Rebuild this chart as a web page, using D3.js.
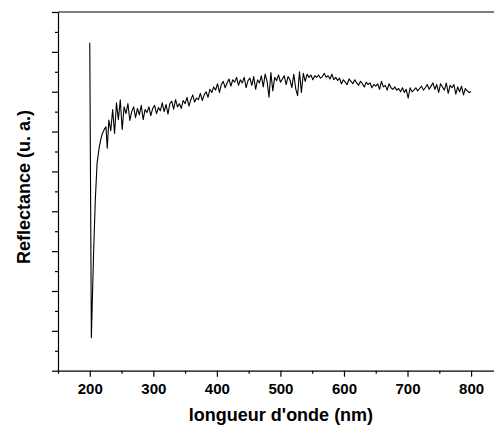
<!DOCTYPE html>
<html>
<head>
<meta charset="utf-8">
<script src="https://cdn.jsdelivr.net/npm/d3@7"></script>
<style>
  body { margin: 0; background: #fff; }
  text { font-family: "Liberation Sans", Arial, sans-serif; font-weight: bold; }
</style>
</head>
<body>
<script>
// spike + recovery at the start of the scan
const headWave = [200, 202.5, 206, 208.7, 211.5, 215, 218, 220, 223, 225.5, 227.5];
const headRefl = [8.23, 0.83, 2.95, 4.28, 5.21, 5.62, 5.85, 5.96, 6.06, 6.12, 5.58];

// noisy part, one value every 3 nm from 230 to 800 nm
const bodyStart = 230;
const bodyStep = 3;
const bodyRefl = [
  6.29, 6.02, 6.55, 5.95, 6.72, 6.30, 6.80, 6.05, 6.62, 6.45,
  6.70, 6.28, 6.50, 6.62, 6.35, 6.58, 6.42, 6.66, 6.30, 6.55,
  6.48, 6.62, 6.40, 6.58, 6.66, 6.45, 6.60, 6.52, 6.72, 6.50,
  6.68, 6.44, 6.70, 6.76, 6.56, 6.80, 6.62, 6.70, 6.58, 6.78,
  6.70, 6.86, 6.64, 6.80, 6.92, 6.74, 6.84, 6.80, 6.96, 6.78,
  6.92, 7.00, 6.86, 7.06, 6.98, 7.12, 7.04, 7.20, 6.98, 7.18,
  7.26, 7.10, 7.22, 7.32, 7.14, 7.30, 7.24, 7.36, 7.16, 7.30,
  7.22, 7.36, 7.10, 7.28, 7.34, 7.16, 7.38, 7.06, 7.30, 7.22,
  7.40, 7.12, 7.44, 7.26, 6.86, 7.48, 7.02, 7.36, 7.28, 7.42,
  7.24, 7.32, 7.40, 7.18, 7.38, 7.30, 7.10, 7.44, 7.08, 6.90,
  7.50, 6.98, 7.46, 7.26, 7.44, 7.36, 7.42, 7.30, 7.40, 7.36,
  7.42, 7.34, 7.38, 7.46, 7.36, 7.40, 7.32, 7.44, 7.30, 7.36,
  7.28, 7.34, 7.20, 7.30, 7.24, 7.18, 7.32, 7.26, 7.20, 7.30,
  7.22, 7.16, 7.26, 7.20, 7.12, 7.24, 7.18, 7.22, 7.10, 7.18,
  7.14, 7.20, 7.06, 7.26, 7.12, 7.16, 7.04, 7.20, 7.10, 7.06,
  7.12, 7.04, 7.08, 7.00, 7.10, 6.98, 7.06, 6.84, 7.10, 7.00,
  7.04, 7.10, 7.02, 7.08, 7.14, 7.04, 7.10, 7.18, 7.06, 7.14,
  7.22, 7.06, 7.18, 6.98, 7.20, 7.12, 7.04, 7.22, 6.96, 7.16,
  7.10, 7.18, 6.94, 7.12, 7.00, 7.14, 6.92, 7.08, 7.02, 6.98,
  7.00
];

const xMajor = [200, 300, 400, 500, 600, 700, 800];
const xMinor = [150, 250, 350, 450, 550, 650, 750, 850];
const yMajor = [0, 1, 2, 3, 4, 5, 6, 7, 8, 9];
const yMinor = [0.5, 1.5, 2.5, 3.5, 4.5, 5.5, 6.5, 7.5, 8.5];

const W = 494, H = 430;
const plotLeft = 58, plotTop = 12, plotBottom = 370.7;

const points = headWave.map((w, i) => [w, headRefl[i]])
  .concat(bodyRefl.map((v, i) => [bodyStart + i * bodyStep, v]));

const svg = d3.select('body').append('svg')
  .attr('width', W)
  .attr('height', H);

const x = d3.scaleLinear().domain([150, 850]).range([plotLeft, plotLeft + 700 * 0.6355]);
const y = d3.scaleLinear().domain([0, 9]).range([plotBottom, plotTop]);

// curve
svg.append('path')
  .datum(points)
  .attr('fill', 'none')
  .attr('stroke', '#000')
  .attr('stroke-width', 1.1)
  .attr('stroke-linejoin', 'round')
  .attr('d', d3.line().x(d => x(d[0])).y(d => y(d[1])));

// top frame line
svg.append('line')
  .attr('x1', plotLeft).attr('x2', x(850))
  .attr('y1', plotTop).attr('y2', plotTop)
  .attr('stroke', '#000').attr('stroke-width', 1.2);

// x axis
const gx = svg.append('g').attr('transform', `translate(0,${plotBottom})`);
gx.call(d3.axisBottom(x).tickValues(xMajor).tickSize(6).tickSizeOuter(0).tickPadding(7).tickFormat(d3.format('d')));
gx.append('g').call(d3.axisBottom(x).tickValues(xMinor).tickSize(3).tickFormat(''))
  .select('.domain').remove();

// y axis, no labels
const gy = svg.append('g').attr('transform', `translate(${plotLeft},0)`);
gy.call(d3.axisLeft(y).tickValues(yMajor).tickSize(6).tickSizeOuter(0).tickFormat(''));
gy.append('g').call(d3.axisLeft(y).tickValues(yMinor).tickSize(3).tickFormat(''))
  .select('.domain').remove();

svg.selectAll('.domain, .tick line').attr('stroke', '#000').attr('stroke-width', 1.2);
gx.selectAll('.tick text')
  .attr('fill', '#000')
  .style('font-size', '15px')
  .style('font-family', '"Liberation Sans", Arial, sans-serif')
  .style('font-weight', 'bold');

// axis titles
svg.append('text')
  .attr('x', 281).attr('y', 421)
  .attr('text-anchor', 'middle')
  .style('font-size', '18px')
  .text("longueur d'onde (nm)");

svg.append('text')
  .attr('transform', 'translate(30,187) rotate(-90)')
  .attr('text-anchor', 'middle')
  .style('font-size', '18px')
  .text('Reflectance (u. a.)');
</script>
</body>
</html>
